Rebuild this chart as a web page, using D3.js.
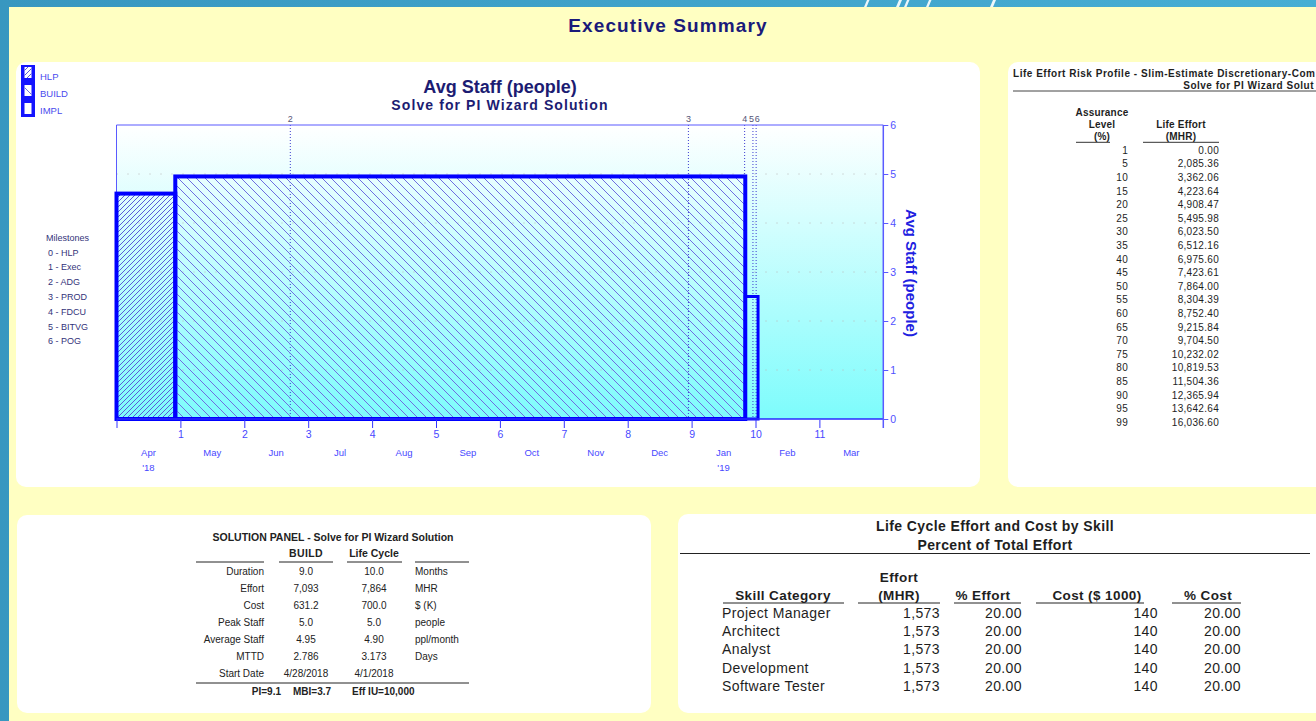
<!DOCTYPE html>
<html>
<head>
<meta charset="utf-8">
<script src="https://cdn.jsdelivr.net/npm/d3@7"></script>
<style>
  html, body { margin: 0; padding: 0; background: #3a9cc4; }
  svg { display: block; }
  text { font-family: "Liberation Sans", Arial, sans-serif; }
  .narrow { font-family: "Liberation Sans Narrow", "Liberation Sans", Arial, sans-serif; }
</style>
</head>
<body>
<svg id="page" width="1316" height="721"></svg>
<script>
// ---- Staffing profile (months from life-cycle start) ----
const phaseNames = ["HLP", "BUILD", "IMPL"];
const phaseStart = [0, 0.92, 9.84];
const phaseEnd   = [0.92, 9.84, 10.04];
const phaseStaff = [4.6, 4.95, 2.5];

// ---- Milestones ----
const milestoneIds   = ["2", "3", "4", "5", "6"];
const milestoneMonth = [2.72, 8.95, 9.83, 9.96, 10.01];
const milestoneNames = ["0 - HLP", "1 - Exec", "2 - ADG", "3 - PROD", "4 - FDCU", "5 - BITVG", "6 - POG"];

// ---- Axes ----
const monthTicks = [0, 1, 2, 3, 4, 5, 6, 7, 8, 9, 10, 11];
const monthNames = ["Apr", "May", "Jun", "Jul", "Aug", "Sep", "Oct", "Nov", "Dec", "Jan", "Feb", "Mar"];
const yearIndex  = [0, 9];
const yearNames  = ["'18", "'19"];
const staffTicks = [0, 1, 2, 3, 4, 5, 6];

// ---- Risk profile ----
const riskTitle = ["Life Effort Risk Profile - Slim-Estimate Discretionary-Com", "Solve for PI Wizard Solut"];
const assuranceLevels = [1, 5, 10, 15, 20, 25, 30, 35, 40, 45, 50, 55, 60, 65, 70, 75, 80, 85, 90, 95, 99];
const lifeEffort = [0.00, 2085.36, 3362.06, 4223.64, 4908.47, 5495.98, 6023.50, 6512.16, 6975.60, 7423.61,
                    7864.00, 8304.39, 8752.40, 9215.84, 9704.50, 10232.02, 10819.53, 11504.36, 12365.94, 13642.64, 16036.60];

// ---- Solution panel ----
const solutionRows   = ["Duration", "Effort", "Cost", "Peak Staff", "Average Staff", "MTTD", "Start Date"];
const solutionBuild  = [9.0, 7093, 631.2, 5.0, 4.95, 2.786, "4/28/2018"];
const solutionLife   = [10.0, 7864, 700.0, 5.0, 4.90, 3.173, "4/1/2018"];
const solutionFormat = [".1f", ",d", ".1f", ".1f", ".2f", ".3f", null];
const solutionUnits  = ["Months", "MHR", "$ (K)", "people", "ppl/month", "Days", ""];
const solutionFooter = ["PI=9.1", "MBI=3.7", "Eff IU=10,000"];

// ---- Skill breakdown ----
const skills         = ["Project Manager", "Architect", "Analyst", "Development", "Software Tester"];
const skillEffort    = [1573, 1573, 1573, 1573, 1573];
const skillPctEffort = [20, 20, 20, 20, 20];
const skillCost      = [140, 140, 140, 140, 140];
const skillPctCost   = [20, 20, 20, 20, 20];

const svg = d3.select("#page");
const defs = svg.append("defs");

// frame gradient
const fg = defs.append("linearGradient").attr("id", "frameGrad").attr("x1", 0).attr("x2", 1).attr("y1", 0).attr("y2", 0);
fg.append("stop").attr("offset", 0).attr("stop-color", "#3897c0");
fg.append("stop").attr("offset", 1).attr("stop-color", "#47aed4");

svg.append("rect").attr("width", 1316).attr("height", 721).attr("fill", "url(#frameGrad)");
// decorative slashes on the frame
[[864, 5], [896, 6], [904, 5], [926, 5], [990, 6]].forEach(([sx, w]) => {
  svg.append("path")
    .attr("d", `M${sx},7 L${sx + 3},0 L${sx + 3 + w * 0.5},0 L${sx + w * 0.5},7 Z`)
    .attr("fill", "#ffffff").attr("opacity", 0.9);
});
svg.append("rect").attr("x", 9).attr("y", 7).attr("width", 1307).attr("height", 714).attr("fill", "#ffffc2");

svg.append("text").attr("x", 668).attr("y", 32).attr("text-anchor", "middle")
  .attr("font-size", 19).attr("font-weight", "bold").attr("letter-spacing", 1.1)
  .attr("fill", "#1a1a7a").text("Executive Summary");

// panels
const panels = [[16, 62, 964, 425], [1008, 62, 330, 425], [17, 515, 634, 198], [678, 514, 660, 199]];
panels.forEach(p => svg.append("rect").attr("x", p[0]).attr("y", p[1]).attr("width", p[2]).attr("height", p[3])
  .attr("rx", 10).attr("fill", "#ffffff"));

// ================= Staff chart =================
const x = d3.scaleLinear().domain([0, 12]).range([116.5, 883.3]);
const y = d3.scaleLinear().domain([0, 6]).range([419, 125]);

const pg = defs.append("linearGradient").attr("id", "plotGrad").attr("gradientUnits", "userSpaceOnUse")
  .attr("x1", 0).attr("x2", 0).attr("y1", y(6)).attr("y2", y(0));
pg.append("stop").attr("offset", 0).attr("stop-color", "#ffffff");
pg.append("stop").attr("offset", 1).attr("stop-color", "#7dfcfc");

const pBuild = defs.append("pattern").attr("id", "hatchBuild").attr("patternUnits", "userSpaceOnUse")
  .attr("width", 9).attr("height", 9);
pBuild.append("path").attr("d", "M0,0 L9,9 M-2,7 L2,11 M7,-2 L11,2")
  .attr("stroke", "#6e6ee0").attr("stroke-width", 1).attr("fill", "none");

const pHlp = defs.append("pattern").attr("id", "hatchHlp").attr("patternUnits", "userSpaceOnUse")
  .attr("width", 5).attr("height", 5);
pHlp.append("path").attr("d", "M0,5 L5,0 M-1,1 L1,-1 M4,6 L6,4")
  .attr("stroke", "#5a5ad8").attr("stroke-width", 1).attr("fill", "none");

const chart = svg.append("g");

chart.append("text").attr("x", 500).attr("y", 93).attr("text-anchor", "middle")
  .attr("font-size", 18).attr("font-weight", "bold").attr("fill", "#1c1c72").text("Avg Staff (people)");
chart.append("text").attr("x", 500).attr("y", 110).attr("text-anchor", "middle")
  .attr("font-size", 14).attr("font-weight", "bold").attr("letter-spacing", 1.1)
  .attr("fill", "#1c1c72").text("Solve for PI Wizard Solution");

// legend
const legFills = ["url(#hatchHlp)", "url(#hatchBuild)", "#ffffff"];
chart.append("rect").attr("x", 21).attr("y", 65).attr("width", 14).attr("height", 52).attr("fill", "#1414ff");
phaseNames.forEach((name, i) => {
  const ly = 67 + i * 18;
  chart.append("rect").attr("x", 24.5).attr("y", ly).attr("width", 7).attr("height", 11).attr("fill", "#ffffff");
  if (i < 2) chart.append("rect").attr("x", 24.5).attr("y", ly).attr("width", 7).attr("height", 11).attr("fill", legFills[i]);
  chart.append("text").attr("class", "narrow").attr("x", 40).attr("y", 79.5 + i * 17.3)
    .attr("font-size", 9.5).attr("fill", "#4a4aee").text(name);
});

// milestone list
chart.append("text").attr("class", "narrow").attr("x", 46).attr("y", 241)
  .attr("font-size", 9).attr("fill", "#33337a").text("Milestones");
chart.selectAll(".ms-name").data(milestoneNames).join("text").attr("class", "narrow ms-name")
  .attr("x", 48).attr("y", (d, i) => 255.6 + i * 14.8)
  .attr("font-size", 9).attr("fill", "#33337a").text(d => d);

// plot background
chart.append("rect").attr("x", x(0)).attr("y", y(6)).attr("width", x(12) - x(0)).attr("height", y(0) - y(6))
  .attr("fill", "url(#plotGrad)");

// dotted horizontal gridlines
chart.selectAll(".grid").data(staffTicks.filter(v => v > 0 && v < 6)).join("line").attr("class", "grid")
  .attr("x1", x(0)).attr("x2", x(12)).attr("y1", d => y(d)).attr("y2", d => y(d))
  .attr("stroke", "#b8b8b8").attr("stroke-width", 1).attr("stroke-dasharray", "1,10");

// milestone markers
chart.selectAll(".ms-line").data(milestoneMonth).join("line").attr("class", "ms-line")
  .attr("x1", d => x(d)).attr("x2", d => x(d)).attr("y1", y(6)).attr("y2", y(0))
  .attr("stroke", "#3c3cd0").attr("stroke-width", 1).attr("stroke-dasharray", "1,2");
chart.selectAll(".ms-label").data(milestoneMonth).join("text").attr("class", "narrow ms-label")
  .attr("x", (d, i) => x(d) + (milestoneIds[i] === "5" ? -1.5 : milestoneIds[i] === "6" ? 1 : 0))
  .attr("y", 121.5).attr("text-anchor", "middle")
  .attr("font-size", 9).attr("fill", "#555577").text((d, i) => milestoneIds[i]);

// frame lines of the plot
chart.append("line").attr("x1", x(0)).attr("x2", x(12)).attr("y1", y(6)).attr("y2", y(6))
  .attr("stroke", "#5a5aff").attr("stroke-width", 1.2);
chart.append("line").attr("x1", x(0)).attr("x2", x(0)).attr("y1", y(6)).attr("y2", y(0))
  .attr("stroke", "#5a5aff").attr("stroke-width", 1);

// staffing bars
const bars = phaseNames.map((n, i) => ({ n, s: phaseStart[i], e: phaseEnd[i], v: phaseStaff[i], fill: legFills[i] }));
chart.selectAll(".bar").data(bars).join("rect").attr("class", "bar")
  .attr("x", d => x(d.s)).attr("y", d => y(d.v))
  .attr("width", d => x(d.e) - x(d.s)).attr("height", d => y(0) - y(d.v))
  .attr("fill", d => d.n === "IMPL" ? "none" : d.fill)
  .attr("stroke", "#0000ff").attr("stroke-width", d => d.n === "IMPL" ? 3 : 4);

// bottom axis
chart.append("line").attr("x1", x(0)).attr("x2", x(12)).attr("y1", y(0)).attr("y2", y(0))
  .attr("stroke", "#2a2aff").attr("stroke-width", 1.5);
const xAxis = chart.append("g").attr("transform", `translate(0,${y(0) + 1})`)
  .call(d3.axisBottom(x).tickValues(monthTicks).tickSize(8).tickPadding(3)
    .tickFormat(d => d === 0 ? "" : d));
xAxis.select(".domain").remove();
xAxis.selectAll("line").attr("stroke", "#3434ff");
xAxis.selectAll("text").attr("class", "narrow").attr("font-size", 10.5).attr("fill", "#4848ff");

chart.selectAll(".mon").data(monthNames).join("text").attr("class", "narrow mon")
  .attr("x", (d, i) => x(monthTicks[i] + 0.5)).attr("y", 455.5).attr("text-anchor", "middle")
  .attr("font-size", 9.5).attr("fill", "#4848ff").text(d => d);
chart.selectAll(".yr").data(yearNames).join("text").attr("class", "narrow yr")
  .attr("x", (d, i) => x(yearIndex[i] + 0.5)).attr("y", 470.5).attr("text-anchor", "middle")
  .attr("font-size", 9.5).attr("fill", "#4848ff").text(d => d);

// right axis
const yAxis = chart.append("g").attr("transform", `translate(${x(12)},0)`)
  .call(d3.axisRight(y).tickValues(staffTicks).tickSize(5).tickPadding(2).tickFormat(d3.format("d")));
yAxis.select(".domain").remove();
yAxis.selectAll("line").attr("stroke", "#5a5aff");
yAxis.selectAll("text").attr("class", "narrow").attr("font-size", 10.5).attr("fill", "#5050ff");
chart.append("line").attr("x1", x(12)).attr("x2", x(12)).attr("y1", y(6)).attr("y2", y(0) + 9)
  .attr("stroke", "#5a5aff").attr("stroke-width", 1.5);

chart.append("text").attr("transform", "translate(911.5,273) rotate(90)")
  .attr("text-anchor", "middle").attr("dy", "0.36em")
  .attr("font-size", 15).attr("font-weight", "bold").attr("fill", "#2020e0").text("Avg Staff (people)");

// ================= Risk profile =================
const risk = svg.append("g").attr("fill", "#1e1e1e");
risk.append("text").attr("x", 1013).attr("y", 76.7).attr("font-size", 10).attr("font-weight", "bold")
  .attr("letter-spacing", 0.52).text(riskTitle[0]);
risk.append("text").attr("x", 1314).attr("y", 89.3).attr("text-anchor", "end").attr("font-size", 10)
  .attr("font-weight", "bold").attr("letter-spacing", 0.5).text(riskTitle[1]);
risk.append("line").attr("x1", 1013).attr("x2", 1316).attr("y1", 91).attr("y2", 91)
  .attr("stroke", "#444").attr("stroke-width", 1);

const rh = [["Assurance", 1102, 115.7], ["Level", 1102, 128.3], ["(%)", 1102, 140],
            ["Life Effort", 1181, 128.3], ["(MHR)", 1181, 140]];
rh.forEach(h => risk.append("text").attr("x", h[1]).attr("y", h[2]).attr("text-anchor", "middle")
  .attr("font-size", 10).attr("font-weight", "bold").attr("letter-spacing", 0.2).text(h[0]));
[[1076, 1110], [1143, 1219]].forEach(s => risk.append("line").attr("x1", s[0]).attr("x2", s[1])
  .attr("y1", 142.3).attr("y2", 142.3).attr("stroke", "#333").attr("stroke-width", 1));

const fmt2 = d3.format(",.2f");
risk.selectAll(".al").data(assuranceLevels).join("text").attr("class", "al")
  .attr("x", 1128).attr("y", (d, i) => 153.7 + i * 13.6).attr("text-anchor", "end")
  .attr("font-size", 10).attr("letter-spacing", 0.3).text(d => d);
risk.selectAll(".le").data(lifeEffort).join("text").attr("class", "le")
  .attr("x", 1219).attr("y", (d, i) => 153.7 + i * 13.6).attr("text-anchor", "end")
  .attr("font-size", 10).attr("letter-spacing", 0.3).text(d => fmt2(d));

// ================= Solution panel =================
const sol = svg.append("g").attr("fill", "#222");
sol.append("text").attr("x", 333).attr("y", 541).attr("text-anchor", "middle")
  .attr("font-size", 10.5).attr("font-weight", "bold").text("SOLUTION PANEL - Solve for PI Wizard Solution");
sol.append("text").attr("x", 306).attr("y", 557).attr("text-anchor", "middle")
  .attr("font-size", 10.5).attr("font-weight", "bold").attr("letter-spacing", 0.4).text("BUILD");
sol.append("text").attr("x", 374).attr("y", 557).attr("text-anchor", "middle")
  .attr("font-size", 10.5).attr("font-weight", "bold").text("Life Cycle");
[[196, 264], [279, 333], [347, 402], [415, 469]].forEach(s => sol.append("line")
  .attr("x1", s[0]).attr("x2", s[1]).attr("y1", 562).attr("y2", 562).attr("stroke", "#222"));
const solY = i => 574.6 + i * 17.05;
const fmtSol = (v, i) => solutionFormat[i] ? d3.format(solutionFormat[i])(v) : v;
sol.selectAll(".sr").data(solutionRows).join("text").attr("class", "sr")
  .attr("x", 264).attr("y", (d, i) => solY(i)).attr("text-anchor", "end").attr("font-size", 10)
  .text(d => d);
sol.selectAll(".sb").data(solutionBuild).join("text").attr("class", "sb")
  .attr("x", 306).attr("y", (d, i) => solY(i)).attr("text-anchor", "middle").attr("font-size", 10)
  .text((d, i) => fmtSol(d, i));
sol.selectAll(".sl").data(solutionLife).join("text").attr("class", "sl")
  .attr("x", 374).attr("y", (d, i) => solY(i)).attr("text-anchor", "middle").attr("font-size", 10)
  .text((d, i) => fmtSol(d, i));
sol.selectAll(".su").data(solutionUnits).join("text").attr("class", "su")
  .attr("x", 415).attr("y", (d, i) => solY(i)).attr("font-size", 10).text(d => d);
sol.append("line").attr("x1", 196).attr("x2", 469).attr("y1", 683).attr("y2", 683).attr("stroke", "#222");
const footX = [[281, "end"], [293, "start"], [352, "start"]];
sol.selectAll(".sf").data(solutionFooter).join("text").attr("class", "sf")
  .attr("x", (d, i) => footX[i][0]).attr("y", 695).attr("text-anchor", (d, i) => footX[i][1])
  .attr("font-size", 10).attr("font-weight", "bold").text(d => d);

// ================= Skill table =================
const sk = svg.append("g").attr("fill", "#1e1e1e");
sk.append("text").attr("x", 995).attr("y", 531).attr("text-anchor", "middle").attr("font-size", 14)
  .attr("font-weight", "bold").attr("letter-spacing", 0.4).text("Life Cycle Effort and Cost by Skill");
sk.append("text").attr("x", 995).attr("y", 550).attr("text-anchor", "middle").attr("font-size", 14)
  .attr("font-weight", "bold").attr("letter-spacing", 0.4).text("Percent of Total Effort");
sk.append("line").attr("x1", 680).attr("x2", 1310).attr("y1", 553.5).attr("y2", 553.5).attr("stroke", "#222");

const skHead = [["Effort", 899, 582], ["Skill Category", 783, 600], ["(MHR)", 899, 600],
                ["% Effort", 983, 600], ["Cost ($ 1000)", 1097, 600], ["% Cost", 1208, 600]];
skHead.forEach(h => sk.append("text").attr("x", h[1]).attr("y", h[2]).attr("text-anchor", "middle")
  .attr("font-size", 13.5).attr("font-weight", "bold").attr("letter-spacing", 0.4).text(h[0]));
[[723, 844], [858, 940], [954, 1021], [1036, 1144], [1172, 1241]].forEach(s => sk.append("line")
  .attr("x1", s[0]).attr("x2", s[1]).attr("y1", 603).attr("y2", 603).attr("stroke", "#222"));

const skY = i => 618 + i * 18.2;
const cols = [
  { data: skills, x: 722, anchor: "start", f: d => d },
  { data: skillEffort, x: 940, anchor: "end", f: d3.format(",d") },
  { data: skillPctEffort, x: 1022, anchor: "end", f: d3.format(".2f") },
  { data: skillCost, x: 1158, anchor: "end", f: d3.format(",d") },
  { data: skillPctCost, x: 1241, anchor: "end", f: d3.format(".2f") }
];
cols.forEach((c, ci) => sk.selectAll(".c" + ci).data(c.data).join("text").attr("class", "c" + ci)
  .attr("x", c.x).attr("y", (d, i) => skY(i)).attr("text-anchor", c.anchor)
  .attr("font-size", 14).attr("letter-spacing", 0.4).text(d => c.f(d)));
</script>
</body>
</html>
